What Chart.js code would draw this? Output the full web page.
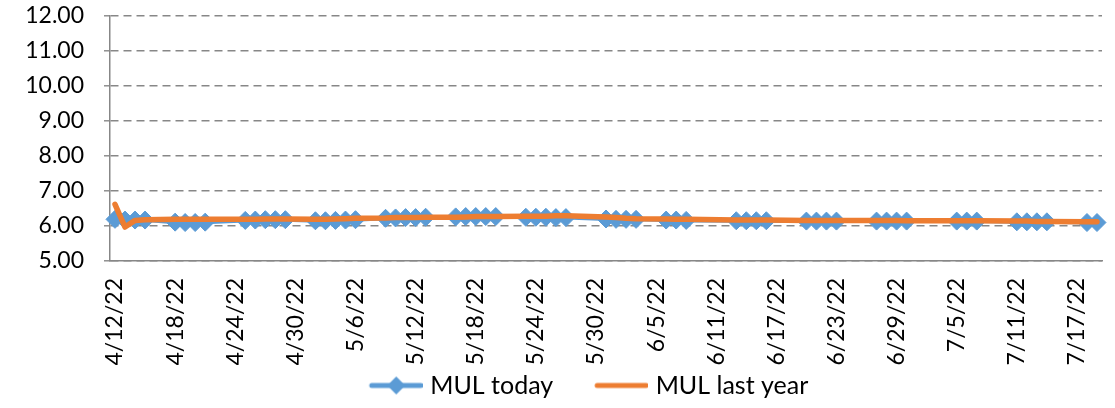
<!DOCTYPE html>
<html><head><meta charset="utf-8">
<script src="https://cdn.jsdelivr.net/npm/chart.js@4.4.0/dist/chart.umd.min.js"></script>
<style>html,body{margin:0;padding:0;background:#fff;}#wrap{width:1115px;height:408px;position:relative;}</style>
</head><body><div id="wrap"><canvas id="c"></canvas></div>
<script>
// ---- data ----
const dates = [
 '4/12/22','4/13/22','4/14/22','4/15/22',
 '4/18/22','4/19/22','4/20/22','4/21/22',
 '4/25/22','4/26/22','4/27/22','4/28/22','4/29/22',
 '5/2/22','5/3/22','5/4/22','5/5/22','5/6/22',
 '5/9/22','5/10/22','5/11/22','5/12/22','5/13/22',
 '5/16/22','5/17/22','5/18/22','5/19/22','5/20/22',
 '5/23/22','5/24/22','5/25/22','5/26/22','5/27/22',
 '5/31/22','6/1/22','6/2/22','6/3/22',
 '6/6/22','6/7/22','6/8/22',
 '6/13/22','6/14/22','6/15/22','6/16/22',
 '6/20/22','6/21/22','6/22/22','6/23/22',
 '6/27/22','6/28/22','6/29/22','6/30/22',
 '7/5/22','7/6/22','7/7/22',
 '7/11/22','7/12/22','7/13/22','7/14/22',
 '7/18/22','7/19/22'
];
const mulToday = [
 6.19,6.17,6.17,6.17,
 6.11,6.10,6.10,6.11,
 6.16,6.17,6.18,6.18,6.18,
 6.15,6.15,6.16,6.17,6.18,
 6.22,6.23,6.24,6.24,6.25,
 6.26,6.27,6.27,6.27,6.27,
 6.25,6.25,6.25,6.24,6.24,
 6.20,6.19,6.19,6.19,
 6.17,6.17,6.16,
 6.15,6.15,6.15,6.15,
 6.14,6.14,6.14,6.14,
 6.14,6.14,6.14,6.14,
 6.14,6.14,6.14,
 6.12,6.12,6.12,6.12,
 6.10,6.10
];
const mulLastYear = [
 6.62,5.97,6.16,6.18,
 6.19,6.19,6.19,6.19,
 6.19,6.19,6.20,6.20,6.20,
 6.19,6.19,6.20,6.21,6.22,
 6.23,6.24,6.24,6.24,6.25,
 6.25,6.26,6.27,6.27,6.27,
 6.28,6.28,6.28,6.29,6.29,
 6.26,6.24,6.22,6.21,
 6.20,6.19,6.19,
 6.17,6.17,6.17,6.17,
 6.16,6.16,6.16,6.16,
 6.16,6.16,6.16,6.15,
 6.15,6.15,6.15,
 6.14,6.14,6.13,6.13,
 6.12,6.12
];
const tickLabels = ['4/12/22','4/18/22','4/24/22','4/30/22','5/6/22','5/12/22','5/18/22','5/24/22',
 '5/30/22','6/5/22','6/11/22','6/17/22','6/23/22','6/29/22','7/5/22','7/11/22','7/17/22'];
const seriesNames = ['MUL today','MUL last year'];
const yMin = 5, yMax = 12, yStep = 1;
const axisStart = '4/12/22', axisEnd = '7/19/22';

// ---- build daily category axis ----
function parseD(s){const p=s.split('/');return new Date(2000+ +p[2], +p[0]-1, +p[1]);}
function fmt(d){return (d.getMonth()+1)+'/'+d.getDate()+'/'+String(d.getFullYear()).slice(2);}
const categories = [];
for (let d = parseD(axisStart); d <= parseD(axisEnd); d = new Date(d.getFullYear(), d.getMonth(), d.getDate()+1)) categories.push(fmt(d));
const todayMap = {}, lastMap = {};
dates.forEach((d,i)=>{todayMap[d]=mulToday[i]; lastMap[d]=mulLastYear[i];});
const todayData = categories.map(c => c in todayMap ? todayMap[c] : null);
const lastData = categories.map(c => c in lastMap ? lastMap[c] : null);

const BLUE = '#5b9bd5', ORANGE = '#ed7d31', GRID = '#878787';
const FONT = 'Lato, "Open Sans", sans-serif';

function legendImg(color, diamond){
  const cv = document.createElement('canvas'); cv.width = 92; cv.height = 24;
  const g = cv.getContext('2d');
  g.strokeStyle = color; g.lineWidth = 5; g.lineCap = 'round';
  g.beginPath(); g.moveTo(41, 12); g.lineTo(90, 12); g.stroke();
  if (diamond){
    g.fillStyle = color; g.beginPath();
    g.moveTo(65.5, 3); g.lineTo(74.5, 12); g.lineTo(65.5, 21); g.lineTo(56.5, 12); g.closePath(); g.fill();
  }
  return cv;
}
const legendImgs = [legendImg(BLUE, true), legendImg(ORANGE, false)];

const legendShift = {
  id: 'legendShift',
  afterLayout(chart){ if (chart.legend) { chart.legend.left += 42; } }
};

new Chart(document.getElementById('c'), {
  type: 'line',
  data: {
    labels: categories,
    datasets: [
      { label: seriesNames[0], data: todayData, borderColor: BLUE, backgroundColor: BLUE, borderWidth: 4,
        pointStyle: 'rectRot', pointRadius: 9, pointBorderWidth: 1, pointBackgroundColor: BLUE, pointBorderColor: BLUE,
        spanGaps: true, tension: 0, order: 2, clip: false },
      { label: seriesNames[1], data: lastData, borderColor: ORANGE, backgroundColor: ORANGE, borderWidth: 5.5,
        pointRadius: 0, spanGaps: true, tension: 0, order: 1, clip: false, borderJoinStyle: 'round', borderCapStyle: 'round' }
    ]
  },
  plugins: [legendShift],
  options: {
    responsive: true, maintainAspectRatio: false, animation: false,
    layout: { padding: { left: 0, right: 13, top: 16, bottom: 0 } },
    plugins: {
      tooltip: { enabled: false },
      legend: {
        position: 'bottom',
        labels: {
          usePointStyle: true, pointStyleWidth: 82, padding: 8, color: '#000',
          font: { family: FONT, size: 25 },
          sort: (a, b) => a.datasetIndex - b.datasetIndex,
          generateLabels: (chart) => chart.data.datasets.map((ds, i) => ({
            text: ds.label, datasetIndex: i, pointStyle: legendImgs[i], fillStyle: ds.borderColor,
            strokeStyle: ds.borderColor, lineWidth: 0, hidden: false, fontColor: '#000'
          }))
        }
      }
    },
    scales: {
      x: {
        type: 'category', offset: true,
        grid: { display: false, drawTicks: false },
        border: { display: true, color: GRID, width: 1.5 },
        ticks: {
          autoSkip: false, maxRotation: 90, minRotation: 90, padding: 17, color: '#000',
          font: { family: FONT, size: 23 },
          callback: function(v){ const l = this.getLabelForValue(v); return tickLabels.includes(l) ? l : null; }
        },
        afterFit: s => { s.height = 104; s.paddingLeft = 0; s.paddingRight = 0; }
      },
      y: {
        min: yMin, max: yMax,
        grid: { color: GRID, lineWidth: 1.6, tickLength: 6, tickColor: GRID, tickWidth: 1.4, tickBorderDash: [] },
        border: { display: true, color: GRID, width: 1.5, dash: [8, 5] },
        ticks: { stepSize: yStep, padding: 20, color: '#000', font: { family: FONT, size: 23 },
          callback: v => Number(v).toFixed(2) },
        afterFit: s => { s.width = 110; s.paddingTop = 0; s.paddingBottom = 0; }
      }
    }
  }
});
</script></body></html>
